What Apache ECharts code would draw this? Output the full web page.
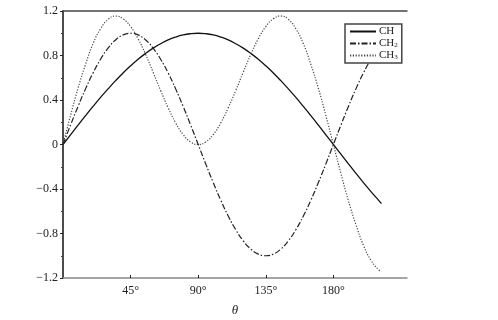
<!DOCTYPE html>
<html>
<head>
<meta charset="utf-8">
<script src="https://cdn.jsdelivr.net/npm/echarts@6/dist/echarts.min.js"></script>
<style>
  html, body { margin: 0; padding: 0; background: #fff; }
  #chart { width: 498px; height: 320px; }
</style>
</head>
<body>
<div id="chart"></div>
<script>
// angle in degrees
const theta = [0, 5, 10, 15, 20, 25, 30, 35, 40, 45, 50, 55, 60, 65, 70, 75, 80, 85, 90,
  95, 100, 105, 110, 115, 120, 125, 130, 135, 140, 145, 150, 155, 160, 165, 170, 175, 180,
  185, 190, 195, 200, 205, 210, 212]

const ch = [0, 0.087, 0.174, 0.259, 0.342, 0.423, 0.5, 0.574, 0.643, 0.707, 0.766, 0.819, 0.866, 0.906, 0.94, 0.966, 0.985, 0.996, 1,
  0.996, 0.985, 0.966, 0.94, 0.906, 0.866, 0.819, 0.766, 0.707, 0.643, 0.574, 0.5, 0.423, 0.342, 0.259, 0.174, 0.087, 0,
  -0.087, -0.174, -0.259, -0.342, -0.423, -0.5, -0.53]

const ch2 = [0, 0.174, 0.342, 0.5, 0.643, 0.766, 0.866, 0.94, 0.985, 1, 0.985, 0.94, 0.866, 0.766, 0.643, 0.5, 0.342, 0.174, 0,
  -0.174, -0.342, -0.5, -0.643, -0.766, -0.866, -0.94, -0.985, -1, -0.985, -0.94, -0.866, -0.766, -0.643, -0.5, -0.342, -0.174, 0,
  0.174, 0.342, 0.5, 0.643, 0.766, 0.866, 0.899]

const ch3 = [0, 0.26, 0.505, 0.72, 0.906, 1.04, 1.125, 1.155, 1.13, 1.06, 0.95, 0.81, 0.65, 0.485, 0.33, 0.194, 0.089, 0.023, 0,
  0.023, 0.089, 0.194, 0.33, 0.485, 0.65, 0.81, 0.95, 1.06, 1.13, 1.155, 1.125, 1.04, 0.906, 0.72, 0.505, 0.26, 0,
  -0.26, -0.505, -0.72, -0.906, -1.04, -1.125, -1.143]

const xTicks = [45, 90, 135, 180]
const seriesNames = ['CH', 'CH2', 'CH3']

const serif = '"Liberation Serif", "DejaVu Serif", serif'
const pair = (ys) => theta.map((t, i) => [t, ys[i]])

const chart = echarts.init(document.getElementById('chart'))
chart.setOption({
  backgroundColor: '#fff',
  animation: false,
  textStyle: { fontFamily: serif },
  grid: { left: 63, right: 91, top: 11, bottom: 42, outerBoundsMode: 'none', containLabel: false },
  legend: {
    left: 345,
    top: 24,
    orient: 'vertical',
    data: seriesNames,
    backgroundColor: '#fff',
    borderColor: '#444',
    borderWidth: 1.5,
    borderRadius: 0,
    padding: [2, 4, 2, 4],
    itemGap: 1,
    itemWidth: 26,
    itemHeight: 9,
    itemStyle: { opacity: 0 },
    formatter: function (name) {
      if (name === 'CH') return '{n|CH}'
      return '{n|CH}{s|' + name.slice(2) + '}'
    },
    textStyle: {
      fontFamily: serif,
      color: '#222',
      padding: [0, 0, 0, -2],
      rich: {
        n: { fontSize: 11, lineHeight: 10, fontFamily: serif, color: '#222' },
        s: { fontSize: 7, lineHeight: 7, fontFamily: serif, color: '#222', padding: [3, 0, 0, 0] }
      }
    }
  },
  xAxis: [
    {
      type: 'value',
      min: 0,
      max: 229,
      name: 'θ',
      nameLocation: 'middle',
      nameGap: 26,
      nameTextStyle: { fontFamily: serif, fontStyle: 'italic', fontSize: 13, color: '#222' },
      splitLine: { show: false },
      axisLine: { onZero: false, lineStyle: { color: '#888', width: 1.5 } },
      axisTick: { inside: true, length: 3, customValues: xTicks, lineStyle: { color: '#222' } },
      axisLabel: {
        customValues: xTicks,
        margin: 7,
        fontSize: 12,
        color: '#222',
        fontFamily: serif,
        formatter: (v) => v + '°'
      }
    },
    {
      type: 'value',
      position: 'top',
      min: 0,
      max: 229,
      splitLine: { show: false },
      axisLine: { show: true, onZero: false, lineStyle: { color: '#444', width: 1.5 } },
      axisTick: { show: false },
      axisLabel: { show: false }
    }
  ],
  yAxis: {
    type: 'value',
    min: -1.2,
    max: 1.2,
    interval: 0.4,
    splitLine: { show: false },
    axisLine: { show: true, onZero: false, lineStyle: { color: '#111', width: 1.5 } },
    axisTick: { show: true, length: 3, lineStyle: { color: '#222' } },
    minorTick: { show: true, splitNumber: 2, length: 2, lineStyle: { color: '#444' } },
    axisLabel: {
      margin: 5,
      fontSize: 12,
      color: '#222',
      fontFamily: serif,
      formatter: (v) => {
        const s = (Math.round(v * 10) / 10).toString()
        return s.replace('-', '−')
      }
    }
  },
  series: [
    {
      name: 'CH',
      type: 'line',
      data: pair(ch),
      smooth: true,
      symbol: 'none',
      lineStyle: { color: '#111', width: 1.3, type: 'solid' },
      itemStyle: { color: '#111' }
    },
    {
      name: 'CH2',
      type: 'line',
      data: pair(ch2),
      smooth: true,
      symbol: 'none',
      lineStyle: { color: '#222', width: 1.2, type: [6, 2, 1.5, 2] },
      itemStyle: { color: '#222' }
    },
    {
      name: 'CH3',
      type: 'line',
      data: pair(ch3),
      smooth: true,
      symbol: 'none',
      lineStyle: { color: '#444', width: 1.2, type: [1.2, 1.6] },
      itemStyle: { color: '#444' }
    }
  ]
})
</script>
</body>
</html>
